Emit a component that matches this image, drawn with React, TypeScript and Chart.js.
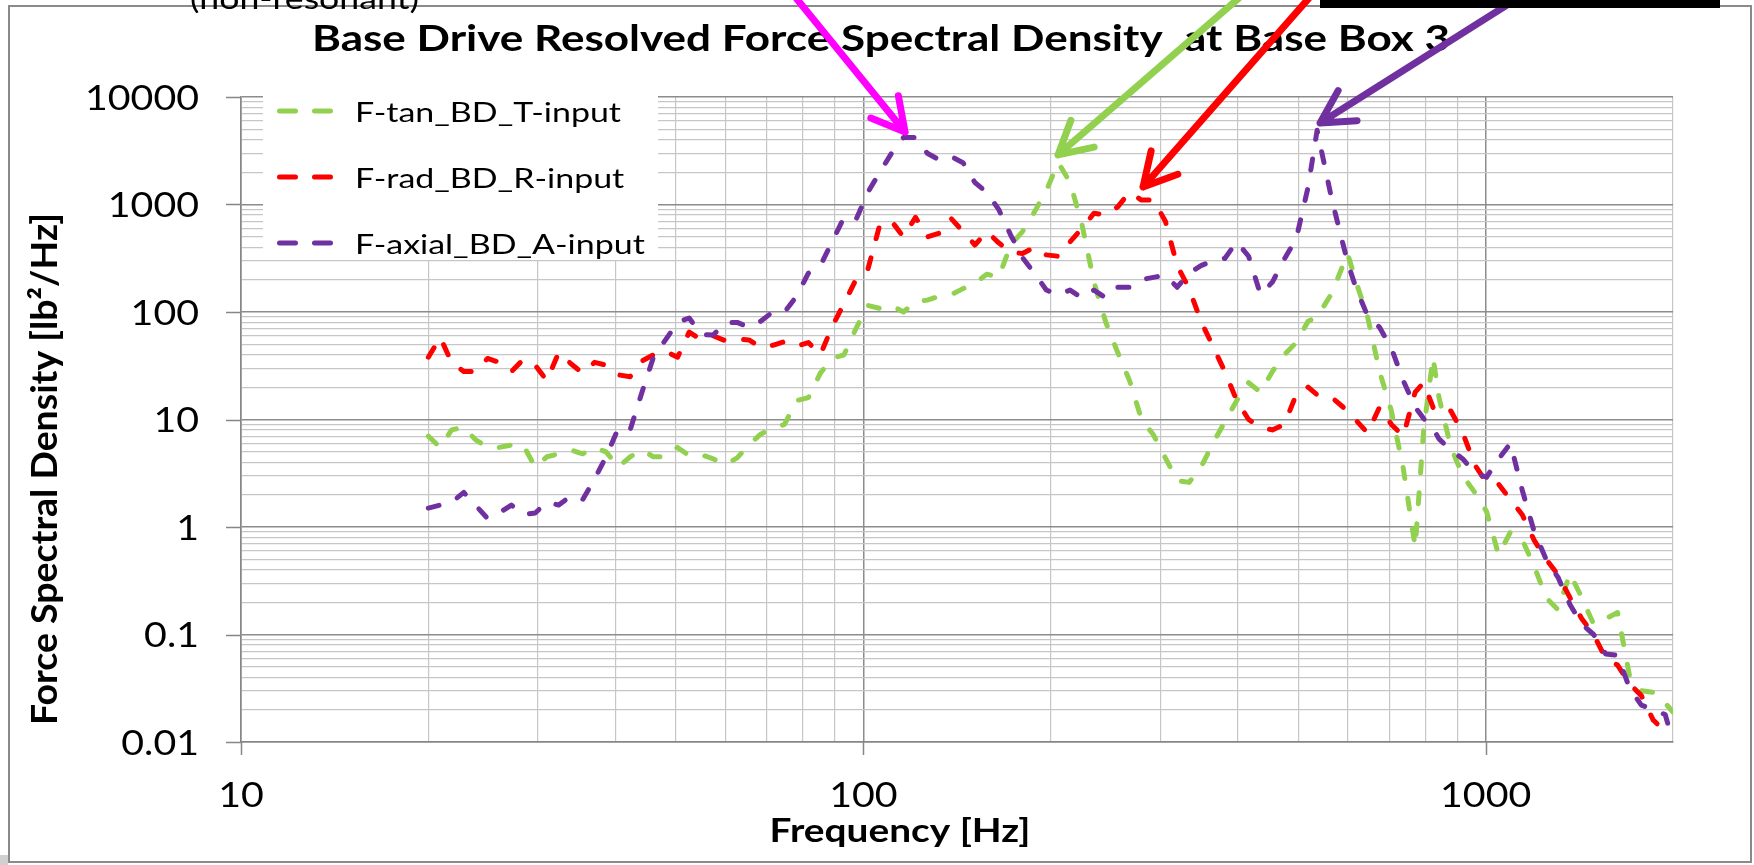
import React, { useEffect, useRef } from 'react';
import { Chart, registerables } from 'chart.js';

Chart.register(...registerables);

// ---------- data ----------
const freqHz = [
  20, 20.9, 21.8, 22.8, 23.8, 24.9, 26, 27.2, 28.4, 29.7,
  31, 32.4, 33.9, 35.4, 37, 38.6, 40.4, 42.2, 44.1, 46,
  48.1, 50.3, 52.5, 54.9, 57.4, 60, 62.7, 65.5, 68.4, 71.5,
  74.7, 78.1, 81.6, 85.3, 89.1, 93.1, 97.3, 101.7, 106.3, 111,
  116, 121.3, 126.7, 132.4, 138.4, 144.6, 151.1, 157.9, 165, 172.5,
  180.2, 188.3, 196.8, 205.7, 214.9, 224.6, 234.7, 245.3, 256.3, 267.8,
  279.9, 292.5, 305.7, 319.4, 333.8, 348.8, 364.5, 380.9, 398.1, 416,
  434.7, 454.3, 474.7, 496.1, 518.4, 536, 566.2, 600, 618.3, 646.1,
  675.2, 705.6, 737.3, 770.5, 795, 823, 841.4, 879.3, 918.9, 960.2,
  1003, 1049, 1096, 1145, 1197, 1251, 1307, 1366, 1427, 1491,
  1559, 1629, 1702, 1779, 1859, 1943, 2000,
];

const tanPsd = [
  7, 5.5, 8, 8.5, 6.5, 5.5, 5.5, 5.8, 5.8, 3.6,
  4.5, 4.8, 5.2, 4.8, 5.5, 5, 3.6, 4.5, 5.2, 4.5,
  4.5, 5.5, 4.6, 4.7, 4.3, 3.8, 4.4, 5.8, 7.3, 8.3,
  9, 15, 16, 27, 37, 40, 70, 115, 108, 115,
  100, 125, 129, 140, 145, 165, 185, 225, 210, 420,
  560, 850, 1350, 2450, 1600, 650, 190, 80, 42, 23,
  10, 7.2, 4.4, 2.7, 2.6, 3.6, 6, 9.5, 15, 22,
  18, 28, 40, 52, 82, 90, 150, 350, 195, 90,
  28, 12, 3.5, 0.65, 8, 38, 16, 5.5, 3, 2.1,
  1.4, 0.55, 0.9, 0.76, 0.43, 0.22, 0.17, 0.37, 0.22, 0.125,
  0.14, 0.16, 0.042, 0.03, 0.029, 0.023, 0.019,
];

const radPsd = [
  38, 58, 34, 28, 28, 37, 34, 28, 36, 32,
  23, 42, 33, 27, 34, 32, 26, 25, 35, 40,
  43, 38, 65, 55, 60, 54, 56, 55, 47, 49,
  53, 48, 52, 40, 73, 120, 200, 250, 650, 700,
  500, 760, 500, 540, 740, 560, 420, 560, 440, 360,
  350, 400, 340, 330, 450, 600, 830, 800, 950, 1300,
  1100, 1100, 700, 270, 165, 82, 48, 28, 15, 10,
  8.5, 8, 9, 17, 20, 17, 16, 12, 9.9, 7.5,
  13, 9, 7, 18, 22, 13, 11.5, 12, 7.5, 3.8,
  2.6, 2.5, 1.8, 1.3, 0.75, 0.5, 0.36, 0.22, 0.14, 0.1,
  0.06, 0.052, 0.035, 0.027, 0.016, 0.0125, null,
];

const axialPsd = [
  1.5, 1.6, 1.7, 2.1, 1.6, 1.2, 1.35, 1.6, 1.3, 1.35,
  1.7, 1.6, 1.95, 1.8, 2.8, 4.5, 8.3, 8, 18, 38,
  55, 80, 88, 62, 61, 80, 80, 72, 82, 100,
  100, 140, 230, 270, 450, 760, 720, 1300, 2000, 3000,
  4200, 4200, 3000, 2600, 2800, 2450, 1600, 1300, 900, 520,
  320, 230, 160, 144, 160, 135, 160, 135, 170, 170,
  200, 210, 220, 170, 230, 270, 300, 315, 450, 330,
  145, 190, 310, 480, 1450, 4900, 1100, 290, 170, 92,
  72, 46, 23, 13, 10.2, 8.3, 6.6, 5.2, 4.3, 3.2,
  2.9, 4.3, 6.0, 2.2, 0.9, 0.5, 0.34, 0.19, 0.125, 0.1,
  0.066, 0.064, 0.032, 0.022, 0.02, 0.018, 0.01,
];

const seriesLabels = ['F-tan_BD_T-input', 'F-rad_BD_R-input', 'F-axial_BD_A-input'];
const seriesColors = ['#92d050', '#ff0000', '#7030a0'];

const xGridHz = [10, 20, 30, 40, 50, 60, 70, 80, 90, 100, 200, 300, 400, 500, 600, 700, 800, 900, 1000, 2000];
const xTickLabels = ['10', '100', '1000'];
const yGridPsd = [
  0.01, 0.02, 0.03, 0.04, 0.05, 0.06, 0.07, 0.08, 0.09,
  0.1, 0.2, 0.3, 0.4, 0.5, 0.6, 0.7, 0.8, 0.9,
  1, 2, 3, 4, 5, 6, 7, 8, 9,
  10, 20, 30, 40, 50, 60, 70, 80, 90,
  100, 200, 300, 400, 500, 600, 700, 800, 900,
  1000, 2000, 3000, 4000, 5000, 6000, 7000, 8000, 9000, 10000,
];
const yTickLabels = ['0.01', '0.1', '1', '10', '100', '1000', '10000'];

const chartTitle = 'Base Drive Resolved Force Spectral Density  at Base Box 3';
const xTitle = 'Frequency [Hz]';
const yTitle = 'Force Spectral Density [lb\u00b2/Hz]';
const topNote = '(non-resonant)';

// annotation arrows: tip anchored at data coords, tail as pixel offset
const arrowNotes = [
  { color: '#ff00ff', tipHz: 116.7, tipPsd: 4720, dx: -109, dy: -134 },
  { color: '#92d050', tipHz: 205.5, tipPsd: 2890, dx: 181, dy: -157 },
  { color: '#ff0000', tipHz: 281.5, tipPsd: 1455, dx: 166, dy: -189 },
  { color: '#7030a0', tipHz: 542, tipPsd: 5730, dx: 198, dy: -125 },
];

const FONT = 'Lato, "Open Sans", "Liberation Sans", sans-serif';
const isDecade = (v: number) => Math.abs(Math.log10(v) - Math.round(Math.log10(v))) < 1e-9;

function drawText(ctx: CanvasRenderingContext2D, s: string, x: number, y: number, font: string,
  align: CanvasTextAlign, sx: number, sy = 1) {
  ctx.save();
  ctx.font = font;
  ctx.translate(x, y);
  ctx.scale(sx, sy);
  ctx.textAlign = align;
  ctx.textBaseline = 'alphabetic';
  ctx.fillStyle = '#000';
  ctx.fillText(s, 0, 0);
  ctx.restore();
}
function fitScale(ctx: CanvasRenderingContext2D, s: string, font: string, target: number) {
  ctx.save();
  ctx.font = font;
  const w = ctx.measureText(s).width;
  ctx.restore();
  return target / w;
}

const decorPlugin = {
  id: 'decor',
  beforeDraw(chart: any) {
    const ctx = chart.ctx as CanvasRenderingContext2D;
    ctx.save();
    ctx.fillStyle = '#ffffff';
    ctx.fillRect(0, 0, chart.width, chart.height);
    // outer frame
    ctx.strokeStyle = '#8a8a8a';
    ctx.lineWidth = 2;
    ctx.strokeRect(9, 6, 1742, 856);
    ctx.fillStyle = '#d0d0d0';
    ctx.fillRect(0, 855, 8, 10);
    ctx.restore();
  },
  beforeDatasetsDraw(chart: any) {
    const ctx = chart.ctx as CanvasRenderingContext2D;
    ctx.save();
    ctx.fillStyle = '#ffffff';
    ctx.fillRect(263, 93, 395, 167);
    ctx.restore();
  },
  afterDraw(chart: any) {
    const ctx = chart.ctx as CanvasRenderingContext2D;
    const xs = chart.scales.x;
    const ys = chart.scales.y;
    ctx.save();
    // major tick marks
    ctx.strokeStyle = '#868686';
    ctx.lineWidth = 1.5;
    ctx.beginPath();
    for (const lbl of yTickLabels) {
      const py = Math.round(ys.getPixelForValue(parseFloat(lbl))) + 0.5;
      ctx.moveTo(xs.left - 15, py);
      ctx.lineTo(xs.left, py);
    }
    for (const lbl of xTickLabels) {
      const px = Math.round(xs.getPixelForValue(parseFloat(lbl))) + 0.5;
      ctx.moveTo(px, ys.bottom);
      ctx.lineTo(px, ys.bottom + 13);
    }
    ctx.stroke();
    ctx.restore();

    // tick labels
    const tickFont = `35px ${FONT}`;
    const tsx = fitScale(ctx, '10000', tickFont, 114);
    for (const lbl of yTickLabels) {
      const py = ys.getPixelForValue(parseFloat(lbl));
      drawText(ctx, lbl, xs.left - 42, py + 12.5, tickFont, 'right', tsx);
    }
    for (const lbl of xTickLabels) {
      const px = xs.getPixelForValue(parseFloat(lbl));
      drawText(ctx, lbl, px, 807, tickFont, 'center', tsx);
    }

    // title
    const titleFont = `bold 37px ${FONT}`;
    drawText(ctx, chartTitle, 881, 51, titleFont, 'center', fitScale(ctx, chartTitle, titleFont, 1138));
    // x title
    const axFont = `bold 33px ${FONT}`;
    drawText(ctx, xTitle, 900, 842, axFont, 'center', fitScale(ctx, xTitle, axFont, 261));
    // y title (rotated)
    ctx.save();
    ctx.translate(57, 469);
    ctx.rotate(-Math.PI / 2);
    const yfont = `bold 31px ${FONT}`;
    drawText(ctx, yTitle, 0, 0, yfont, 'center', fitScale(ctx, yTitle, yfont, 512), 1.15);
    ctx.restore();

    // legend
    const legFont = `26px ${FONT}`;
    const lsx = fitScale(ctx, seriesLabels[0], legFont, 266);
    seriesLabels.forEach((lbl, i) => {
      const cy = 111 + i * 66;
      ctx.save();
      ctx.strokeStyle = seriesColors[i];
      ctx.lineWidth = 5;
      ctx.lineCap = 'round';
      ctx.beginPath();
      ctx.moveTo(279.5, cy); ctx.lineTo(295.5, cy);
      ctx.moveTo(314.5, cy); ctx.lineTo(330.5, cy);
      ctx.stroke();
      ctx.restore();
      drawText(ctx, lbl, 355, cy + 11, legFont, 'left', lsx);
    });

    // partial note at the top
    const noteFont = `28px ${FONT}`;
    drawText(ctx, topNote, 190, 9, noteFont, 'left', fitScale(ctx, topNote, noteFont, 229));

    // arrows
    for (const a of arrowNotes) {
      const tx = xs.getPixelForValue(a.tipHz);
      const ty = ys.getPixelForValue(a.tipPsd);
      const ang = Math.atan2(a.dy, a.dx);
      ctx.save();
      ctx.strokeStyle = a.color;
      ctx.lineWidth = 7;
      ctx.lineCap = 'round';
      ctx.lineJoin = 'round';
      ctx.beginPath();
      ctx.moveTo(tx, ty);
      ctx.lineTo(tx + a.dx * 1.2, ty + a.dy * 1.2);
      const L = 37, spread = 0.5;
      ctx.moveTo(tx + L * Math.cos(ang + spread), ty + L * Math.sin(ang + spread));
      ctx.lineTo(tx, ty);
      ctx.lineTo(tx + L * Math.cos(ang - spread), ty + L * Math.sin(ang - spread));
      ctx.stroke();
      ctx.restore();
    }

    // black bar at the top right
    ctx.save();
    ctx.fillStyle = '#000';
    ctx.fillRect(1320, 0, 400, 8);
    ctx.restore();
  },
};

export default function App() {
  const canvasRef = useRef<HTMLCanvasElement | null>(null);

  useEffect(() => {
    const canvas = canvasRef.current;
    if (!canvas) return;
    const values = [tanPsd, radPsd, axialPsd];
    const gridColor = (c: any) => (c.tick && c.tick.major ? '#8c8c8c' : '#c6c6c6');
    const gridWidth = (c: any) => (c.tick && c.tick.major ? 1.5 : 1.2);
    const chart = new Chart(canvas, {
      type: 'line',
      data: {
        datasets: seriesLabels.map((label, si) => ({
          label,
          data: freqHz.map((f, i) => ({ x: f, y: values[si][i] })),
          borderColor: seriesColors[si],
          backgroundColor: seriesColors[si],
          borderWidth: 5,
          borderDash: [11, 20],
          borderCapStyle: 'round',
          borderJoinStyle: 'round',
          pointRadius: 0,
          tension: 0,
          fill: false,
          order: 3 - si,
        })),
      },
      options: {
        animation: false,
        responsive: false,
        layout: { padding: { left: 241, right: 81, top: 97, bottom: 123 } },
        plugins: {
          legend: { display: false },
          title: { display: false },
          tooltip: { enabled: false },
        },
        scales: {
          x: {
            type: 'logarithmic',
            min: 10,
            max: 2000,
            afterBuildTicks: (s: any) => {
              s.ticks = xGridHz.map((v) => ({ value: v, major: isDecade(v) }));
            },
            ticks: { display: false },
            grid: { color: gridColor, lineWidth: gridWidth, drawTicks: false },
            border: { display: true, color: '#868686', width: 1.5 },
          },
          y: {
            type: 'logarithmic',
            min: 0.01,
            max: 10000,
            afterBuildTicks: (s: any) => {
              s.ticks = yGridPsd.map((v) => ({ value: v, major: isDecade(v) }));
            },
            ticks: { display: false },
            grid: { color: gridColor, lineWidth: gridWidth, drawTicks: false },
            border: { display: true, color: '#868686', width: 1.5 },
          },
        },
      } as any,
      plugins: [decorPlugin as any],
    });
    return () => chart.destroy();
  }, []);

  return (
    <div style={{ position: 'absolute', left: 0, top: 0, width: 1754, height: 865 }}>
      <canvas ref={canvasRef} width={1754} height={865} style={{ display: 'block' }} />
    </div>
  );
}
